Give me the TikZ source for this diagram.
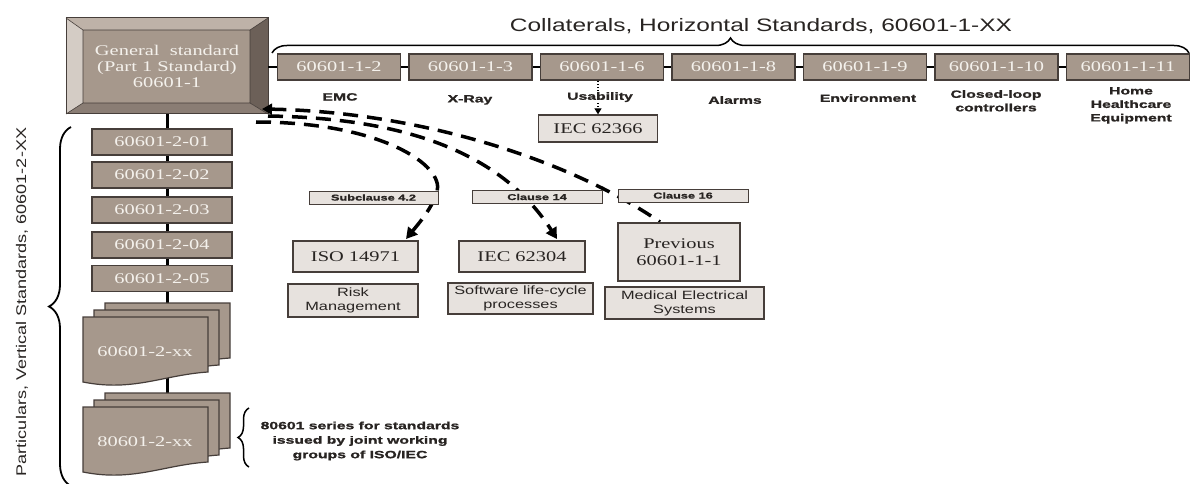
\documentclass[tikz,border=0pt]{standalone}
\usepackage{fontspec}
\usetikzlibrary{arrows.meta,decorations.pathreplacing,calc}

\newfontfamily\bxfont[FakeStretch=1.38]{Liberation Serif}
\newfontfamily\lbfont[FakeStretch=1.5,BoldFeatures={FakeBold=1.3}]{Liberation Sans}
\newfontfamily\sffont[FakeStretch=1.36]{Liberation Sans}
\newfontfamily\rotfont[FakeStretch=1.29]{Liberation Sans}

\definecolor{taupe}{RGB}{166,152,140}
\definecolor{bord}{RGB}{70,62,58}
\definecolor{pale}{RGB}{231,226,222}
\definecolor{paper}{RGB}{244,241,236}
\definecolor{ink}{RGB}{40,36,34}
\definecolor{bevtop}{RGB}{190,178,168}
\definecolor{bevleft}{RGB}{212,204,197}
\definecolor{bevright}{RGB}{108,96,88}
\definecolor{bevbot}{RGB}{138,125,116}

\tikzset{
  dbox/.style={draw=bord, fill=taupe, line width=1.3pt, minimum width=123pt,
    minimum height=26pt, inner sep=0pt, text=paper,
    font=\bxfont\fontsize{14.8}{16}\selectfont},
  vbox/.style={dbox, minimum width=140pt},
  pbox/.style={draw=bord, fill=pale, line width=1.3pt, inner sep=0pt,
    text=ink, align=center},
  sbox/.style={pbox, font=\bxfont\fontsize{14.8}{17}\selectfont},
  tbox/.style={pbox, font=\sffont\fontsize{12}{14}\selectfont},
  cbox/.style={pbox, line width=1pt, minimum height=13pt, minimum width=130pt,
    font=\lbfont\bfseries\fontsize{8.5}{9}\selectfont},
  lab/.style={font=\lbfont\bfseries\fontsize{10.5}{13.5}\selectfont,
    text=ink, align=center, inner sep=0pt, anchor=north},
  doctext/.style={text=paper, font=\bxfont\fontsize{14.8}{16}\selectfont},
  conn/.style={line width=3pt, draw=black},
  dashlink/.style={line width=3.5pt, dash pattern=on 15pt off 9pt, draw=black},
  endtip/.style={-{Triangle[length=11pt,width=12pt]}},
  docpage/.style={draw=bord, fill=taupe, line width=1.2pt},
  bracestyle/.style={decorate, draw=black, line width=1.5pt},
  pics/docstack/.style={code={
    \foreach \dx/\dy in {22/-14, 11/-7, 0/0}{
      \draw[docpage] (\dx,\dy) -- ++(125,0) -- ++(0,55)
        .. controls ++(-45,3) and ++(50,10) .. ++(-125,10) -- cycle;
    }
  }},
}

\begin{document}
\begin{tikzpicture}[x=1pt,y=-1pt]
\useasboundingbox (0,0) rectangle (1190,484);

% braces and their captions
\draw[bracestyle, decoration={brace, amplitude=15pt}] (272,53) -- (1189,53);
\node[font=\sffont\fontsize{18}{20}\selectfont, text=ink, anchor=base] (title)
  at (761,32) {Collaterals, Horizontal Standards, 60601-1-XX};

\draw[bracestyle, line width=1.8pt, decoration={brace, amplitude=22pt}] (71,486) -- (71,127);
\node[rotate=90, text=ink, font=\rotfont\fontsize{14}{16}\selectfont] (vtitle)
  at (22,302) {Particulars, Vertical Standards, 60601-2-XX};

\draw[bracestyle, decoration={brace, amplitude=11pt}] (249,467) -- (249,408);
\node[lab, anchor=center, font=\lbfont\bfseries\fontsize{10.5}{14.5}\selectfont] (note)
  at (360,441) {80601 series for standards\\issued by joint working\\groups of ISO/IEC};

% general standard: bevelled frame
\fill[bevtop] (66,18) -- (268,18) -- (250,30) -- (83,30) -- cycle;
\fill[bevleft] (66,18) -- (83,30) -- (83,103) -- (66,114) -- cycle;
\fill[bevright] (268,18) -- (268,114) -- (250,103) -- (250,30) -- cycle;
\fill[bevbot] (66,114) -- (268,114) -- (250,103) -- (83,103) -- cycle;
\fill[taupe] (83,30) rectangle (250,103);
\draw[bord, line width=1pt] (66,18) rectangle (268,114);
\draw[bord, line width=0.6pt] (83,30) rectangle (250,103)
  (66,18) -- (83,30) (268,18) -- (250,30) (66,114) -- (83,103) (268,114) -- (250,103);
\node[minimum width=202pt, minimum height=96pt, inner sep=0pt, align=center,
  text=paper, font=\bxfont\fontsize{14.8}{16}\selectfont] (gen) at (167,66)
  {General\ \ standard\\(Part 1 Standard)\\60601-1};

% vertical spine of particular standards
\coordinate (vend) at (167,398);
\draw[conn] (gen.south) -- (vend);

% collateral standards row
\foreach \n/\x/\t in {b2/339/60601-1-2, b3/470.5/60601-1-3, b6/602/60601-1-6,
    b8/733.5/60601-1-8, b9/865/60601-1-9, b10/996.5/60601-1-10, b11/1128/60601-1-11}
  \node[dbox] (\n) at (\x,67) {\t};
\draw[conn, line width=2.6pt] (b2.west -| gen.east) -- (b2.west);
\foreach \a/\b in {b2/b3, b3/b6, b6/b8, b8/b9, b9/b10, b10/b11}
  \draw[conn, line width=2.6pt] (\a.east) -- (\b.west);

% topic labels
\node[lab] (l2) at (340,93) {EMC};
\node[lab] (l3) at (470,95) {X-Ray};
\node[lab] (l8) at (735,96) {Alarms};
\node[lab] (l9) at (868,94) {Environment};
\node[lab] (l10) at (996,90) {Closed-loop\\controllers};
\node[lab] (l11) at (1131,87) {Home\\Healthcare\\Equipment};

% usability link
\node[sbox, minimum width=119pt, minimum height=27pt] (iec1) at (598,128.5) {IEC 62366};
\draw[dotted, line width=1.2pt, -{Triangle[length=6pt,width=7pt]}] (b6.south -| iec1) -- (iec1.north);
\node[lab, fill=white, inner sep=1pt] (l6) at (600,91) {Usability};

% particular standards column
\foreach \n/\y/\t in {v1/142/60601-2-01, v2/175/60601-2-02, v3/210/60601-2-03,
    v4/245/60601-2-04, v5/278.5/60601-2-05}
  \node[vbox] (\n) at (162,\y) {\t};
\pic at (83,317) {docstack};
\node[doctext] (d60) at (145,352) {60601-2-xx};
\pic at (83,407) {docstack};
\node[doctext] (d80) at (145,442) {80601-2-xx};

% normative references from the general standard
\coordinate (sA) at (262,109);
\coordinate (sB) at (268,116);
\coordinate (sC) at (256,122);
\coordinate (eA) at (660,222);
\coordinate (eB) at (557,239);
\coordinate (eC) at (406,239);
\draw[dashlink, {Triangle[length=10pt,width=11pt]}-] (sA) .. controls (420,112) and (570,160) .. (eA);
\draw[dashlink, endtip] (sB) .. controls (400,118) and (500,150) .. (eB);
\draw[dashlink, endtip] (sC) .. controls (380,122) and (445,165) .. (437,192)
  .. controls (432,208) and (420,222) .. (eC);

\node[cbox, minimum width=129pt] (c42) at (373.5,197.5) {Subclause 4.2};
\node[cbox] (c14) at (537,197) {Clause 14};
\node[cbox] (c16) at (683,195.5) {Clause 16};

\node[sbox, minimum width=125pt, minimum height=31pt] (iso) at (355.5,256.5) {ISO 14971};
\node[sbox, minimum width=126pt, minimum height=31pt] (iec2) at (522,256.5) {IEC 62304};
\node[sbox, minimum width=122pt, minimum height=58pt] (prev) at (679,252) {Previous\\60601-1-1};

\node[tbox, minimum width=130pt, minimum height=33pt] (risk) at (353,300.5) {Risk\\Management};
\node[tbox, minimum width=145pt, minimum height=31pt] (soft) at (520.5,298.5) {Software life-cycle\\processes};
\node[tbox, minimum width=159pt, minimum height=32pt] (mes) at (684.5,303) {Medical Electrical\\Systems};
\end{tikzpicture}
\end{document}
